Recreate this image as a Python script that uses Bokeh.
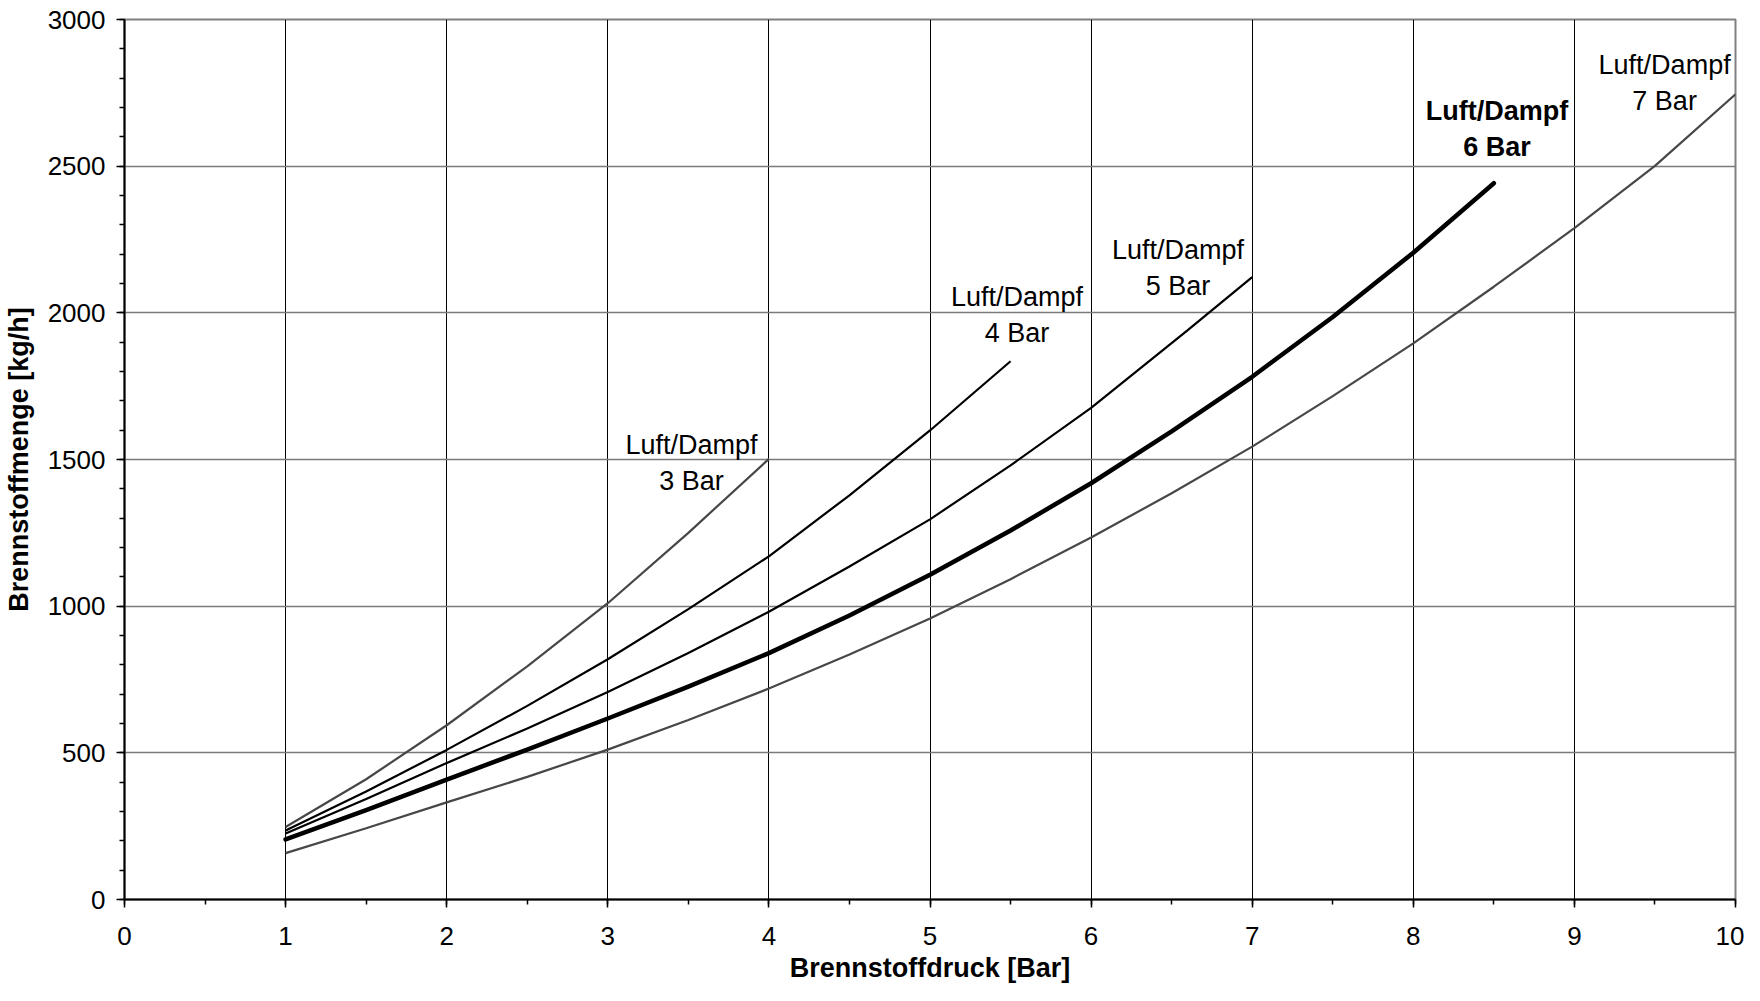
from bokeh.plotting import figure
from bokeh.models import SingleIntervalTicker, FixedTicker, Range1d
from bokeh.core.properties import value
from bokeh.embed import file_html
from bokeh.resources import INLINE

# ---- data (Brennstoffdruck [Bar] -> Brennstoffmenge [kg/h]) ----
x_3bar = [1, 1.5, 2, 2.5, 3, 3.5, 4]
y_3bar = [247, 410, 594, 795, 1010, 1250, 1502]

x_4bar = [1, 1.5, 2, 2.5, 3, 3.5, 4, 4.5, 5, 5.5]
y_4bar = [235, 368, 510, 660, 819, 990, 1170, 1378, 1599, 1835]

x_5bar = [1, 1.5, 2, 2.5, 3, 3.5, 4, 4.5, 5, 5.5, 6, 6.6, 7]
y_5bar = [225, 343, 465, 583, 707, 840, 981, 1135, 1296, 1480, 1676, 1941, 2122]

x_6bar = [1, 1.5, 2, 2.5, 3, 3.5, 4, 4.5, 5, 5.5, 6, 6.5, 7, 7.5, 8, 8.5]
y_6bar = [205, 305, 409, 511, 617, 726, 840, 968, 1107, 1258, 1419, 1596, 1782, 1986, 2205, 2442]

x_7bar = [1, 1.5, 2, 2.5, 3, 3.5, 4, 4.5, 5, 5.5, 6, 6.5, 7, 7.5, 8, 8.5, 9, 9.5, 10]
y_7bar = [158, 243, 331, 418, 511, 612, 719, 835, 958, 1092, 1234, 1385, 1544, 1716, 1896, 2089, 2289, 2501, 2745]

label_texts = ["Luft/Dampf\n3 Bar", "Luft/Dampf\n4 Bar", "Luft/Dampf\n5 Bar", "Luft/Dampf\n7 Bar"]
label_x = [3.52, 5.54, 6.54, 9.56]
label_y = [1489, 1994, 2153, 2785]
bold_label_text = ["Luft/Dampf\n6 Bar"]
bold_label_x = [8.52]
bold_label_y = [2627]

x_ticks_grid = [0, 1, 2, 3, 4, 5, 6, 7, 8, 9]
y_ticks_grid = [0, 500, 1000, 1500, 2000, 2500]

FONT = "Liberation Sans"

p = figure(width=1744, height=985, output_backend="svg", toolbar_location=None,
           x_range=Range1d(0, 10), y_range=Range1d(0, 3000),
           min_border_left=118, min_border_right=9, min_border_top=19,
           min_border_bottom=81, background_fill_color="white",
           border_fill_color="white")

p.outline_line_color = "#808080"
p.outline_line_width = 2

p.xaxis.ticker = SingleIntervalTicker(interval=1, num_minor_ticks=2)
p.yaxis.ticker = SingleIntervalTicker(interval=500, num_minor_ticks=5)

p.xgrid.ticker = FixedTicker(ticks=x_ticks_grid)
p.xgrid.grid_line_color = "black"
p.xgrid.grid_line_width = 1
p.ygrid.ticker = FixedTicker(ticks=y_ticks_grid)
p.ygrid.grid_line_color = "#7a7a7a"
p.ygrid.grid_line_width = 1.5

for ax in (p.xaxis[0], p.yaxis[0]):
    ax.axis_line_color = "black"
    ax.axis_line_width = 2
    ax.major_tick_line_color = "black"
    ax.major_tick_line_width = 1.5
    ax.minor_tick_line_color = "black"
    ax.minor_tick_line_width = 1.5
    ax.major_tick_in = 0
    ax.minor_tick_in = 0
    ax.major_tick_out = 8
    ax.minor_tick_out = 5
    ax.major_label_text_font = FONT
    ax.major_label_text_font_size = "26px"
    ax.major_label_text_color = "black"
    ax.axis_label_text_font = FONT
    ax.axis_label_text_font_size = "27px"
    ax.axis_label_text_font_style = "bold"
    ax.axis_label_text_color = "black"

p.xaxis.axis_label = "Brennstoffdruck [Bar]"
p.yaxis.axis_label = "Brennstoffmenge [kg/h]"
p.xaxis.major_label_standoff = 19
p.xaxis.axis_label_standoff = 5
p.yaxis.major_label_standoff = 11
p.yaxis.axis_label_standoff = 11

GRAY = "#474747"
p.line(x_3bar, y_3bar, line_color=GRAY, line_width=2.2)
p.line(x_4bar, y_4bar, line_color="black", line_width=2.2)
p.line(x_5bar, y_5bar, line_color="black", line_width=2.2)
p.line(x_6bar, y_6bar, line_color="black", line_width=4.5, line_cap="round",
       line_join="round")
p.line(x_7bar, y_7bar, line_color=GRAY, line_width=2.2)

p.text(x=label_x, y=label_y, text=label_texts, text_font=value(FONT),
       text_font_size="27px", text_align="center", text_baseline="middle",
       text_line_height=1.2, text_color="black")
p.text(x=bold_label_x, y=bold_label_y, text=bold_label_text, text_font=value(FONT),
       text_font_size="27px", text_font_style="bold", text_align="center",
       text_baseline="middle", text_line_height=1.2, text_color="black")

open("out.html", "w").write(file_html(p, INLINE))
